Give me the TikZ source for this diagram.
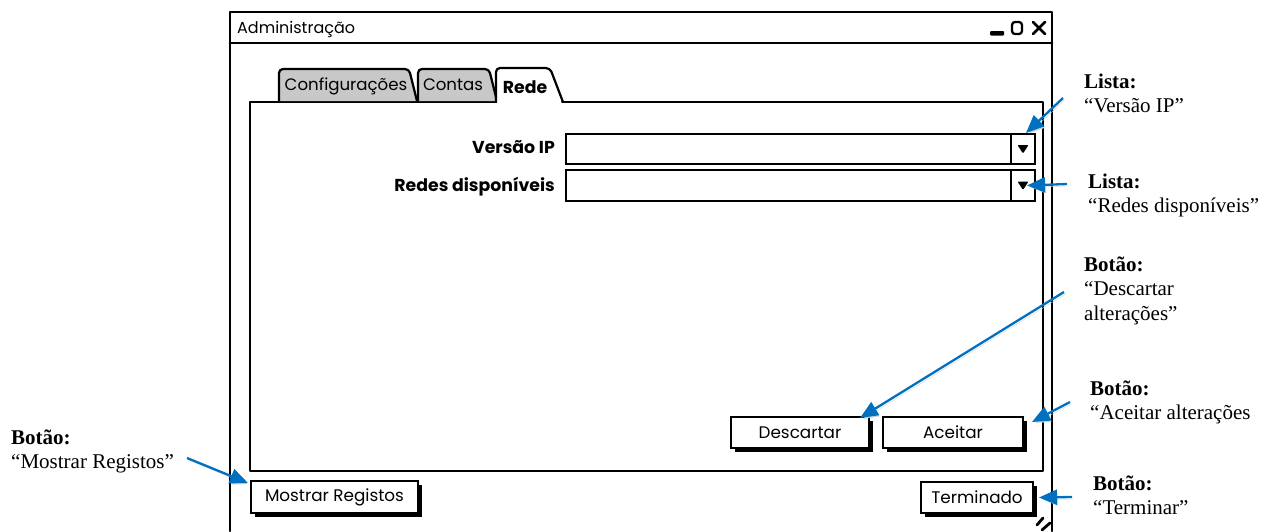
\documentclass[tikz,border=0pt]{standalone}
\usepackage{fontspec}
\setmainfont{Liberation Serif}
\newfontfamily\mockfont{Poppins}
\usetikzlibrary{arrows.meta,shadows}
\definecolor{callout}{HTML}{0070C0}
\definecolor{tabgray}{HTML}{C8C8C8}

\begin{document}
\begin{tikzpicture}[x=1pt,y=-1pt,
  winline/.style={draw=black,line width=2.8pt,line join=round,line cap=round},
  panelline/.style={draw=black,line width=2.4pt,line join=round},
  tabshape/.style={draw=black,line width=2.2pt,line join=round,rounded corners=4pt},
  uitext/.style={font=\mockfont\fontsize{16.6}{19}\selectfont,inner sep=0pt},
  uibold/.style={font=\mockfont\bfseries\fontsize{17.3}{20}\selectfont,inner sep=0pt},
  combo/.style={draw=black,line width=2pt,fill=white,inner sep=0pt,anchor=north west},
  uibutton/.style={draw=black,line width=2pt,fill=white,inner sep=0pt,anchor=north west,
    font=\mockfont\fontsize{16.8}{19}\selectfont,
    drop shadow={shadow xshift=4pt,shadow yshift=-4pt,opacity=1,fill=black}},
  note/.style={anchor=base west,inner sep=0pt,align=left,
    font=\fontsize{21}{24.5}\selectfont},
  callarrow/.style={draw=callout,line width=2.3pt,
    -{Triangle[length=18pt,width=15pt]},
    preaction={draw=black!18,transform canvas={shift={(1.5pt,-2pt)}}}},
]
\useasboundingbox (0,0) rectangle (1261,531);

% window frame and title bar
\draw[winline] (230,531) -- (230,12) -- (1052,12) -- (1052,531);
\draw[winline] (230,43) -- (1052,43);
\node[uitext,anchor=base west,font=\mockfont\fontsize{16}{19}\selectfont] (title) at (237,33) {Administração};

% window controls
\fill[rounded corners=1pt] (990,31) rectangle (1004,35.5);
\draw[line width=2.3pt,rounded corners=3pt] (1012,22) rectangle (1022,34);
\draw[line width=2.8pt,line cap=round] (1033,22) -- (1045,34) (1045,22) -- (1033,34);

% tab panel
\draw[panelline] (250,102) rectangle (1043,471);

% tabs
\draw[tabshape,fill=tabgray] (279,101) -- (279,69) -- (409,69) -- (417,101);
\draw[tabshape,fill=tabgray] (418,101) -- (418,69) -- (489,69) -- (497,101);
\fill[white] (497,104) -- (497,70) -- (550,69) -- (562,104) -- cycle;
\draw[tabshape] (496,102) -- (496,68) -- (550,68) -- (563,102);
\node[uitext,anchor=base] (tabConf) at (346,90) {Configurações};
\node[uitext,anchor=base] (tabCont) at (453,90) {Contas};
\node[uibold,anchor=base] (tabRede) at (525,93) {Rede};

% form fields
\node[uibold,anchor=base east] (lblVersao) at (555,153) {Versão IP};
\node[uibold,anchor=base east] (lblRedes) at (555,191) {Redes disponíveis};
\node[combo,minimum width=469pt,minimum height=30pt] (cbV) at (565,133) {};
\node[combo,minimum width=24pt,minimum height=30pt] (ddV) at (1010,133) {};
\node[combo,minimum width=469pt,minimum height=31pt] (cbR) at (565,169) {};
\node[combo,minimum width=24pt,minimum height=31pt] (ddR) at (1010,169) {};
\fill[rounded corners=1pt] ([shift={(-5.5,-4)}]ddV.center) -- ([shift={(5.5,-4)}]ddV.center) -- ([shift={(0,4.5)}]ddV.center) -- cycle;
\fill[rounded corners=1pt] ([shift={(-5.5,-4)}]ddR.center) -- ([shift={(5.5,-4)}]ddR.center) -- ([shift={(0,4.5)}]ddR.center) -- cycle;

% buttons
\node[uibutton,minimum width=138pt,minimum height=31pt] (btnD) at (730,416) {Descartar};
\node[uibutton,minimum width=140pt,minimum height=31pt] (btnA) at (882,416) {Aceitar};
\node[uibutton,minimum width=167pt,minimum height=32pt] (btnM) at (250,480) {Mostrar Registos};
\node[uibutton,minimum width=112pt,minimum height=31pt] (btnT) at (920,481) {Terminado};

% resize grip
\draw[line width=2.8pt,line cap=round] (1037,525) -- (1043,518) (1042,530) -- (1050,523);

% annotations
\node[note] (noteV) at (1084,88) {\begin{tabular}[t]{@{}l@{}}\textbf{Lista:}\\“Versão IP”\end{tabular}};
\node[note] (noteR) at (1088,188) {\begin{tabular}[t]{@{}l@{}}\textbf{Lista:}\\“Redes disponíveis”\end{tabular}};
\node[note] (noteD) at (1084,271) {\begin{tabular}[t]{@{}l@{}}\textbf{Botão:}\\“Descartar\\alterações”\end{tabular}};
\node[note] (noteA) at (1090,395) {\begin{tabular}[t]{@{}l@{}}\textbf{Botão:}\\“Aceitar alterações\end{tabular}};
\node[note] (noteT) at (1093,490) {\begin{tabular}[t]{@{}l@{}}\textbf{Botão:}\\“Terminar”\end{tabular}};
\node[note] (noteM) at (11,444) {\begin{tabular}[t]{@{}l@{}}\textbf{Botão:}\\“Mostrar Registos”\end{tabular}};

% callout arrow tails
\coordinate (tailV) at (1063,98);
\coordinate (tailR) at (1067,184);
\coordinate (tailD) at (1064,292);
\coordinate (tailA) at (1070,402);
\coordinate (tailT) at (1072,497);
\coordinate (tailM) at (187,458);

% callout arrows
\draw[callarrow] (tailV) -- ([xshift=3pt]ddV.north);
\draw[callarrow] (tailR) -- ([xshift=4pt]ddR.center);
\draw[callarrow] (tailD) -- ([shift={(-10,2)}]btnD.north east);
\draw[callarrow] (tailA) -- ([shift={(8,6)}]btnA.north east);
\draw[callarrow] (tailT) -- ([xshift=5pt]btnT.east);
\draw[callarrow] (tailM) -- ([shift={(-2,3)}]btnM.north west);
\end{tikzpicture}
\end{document}
